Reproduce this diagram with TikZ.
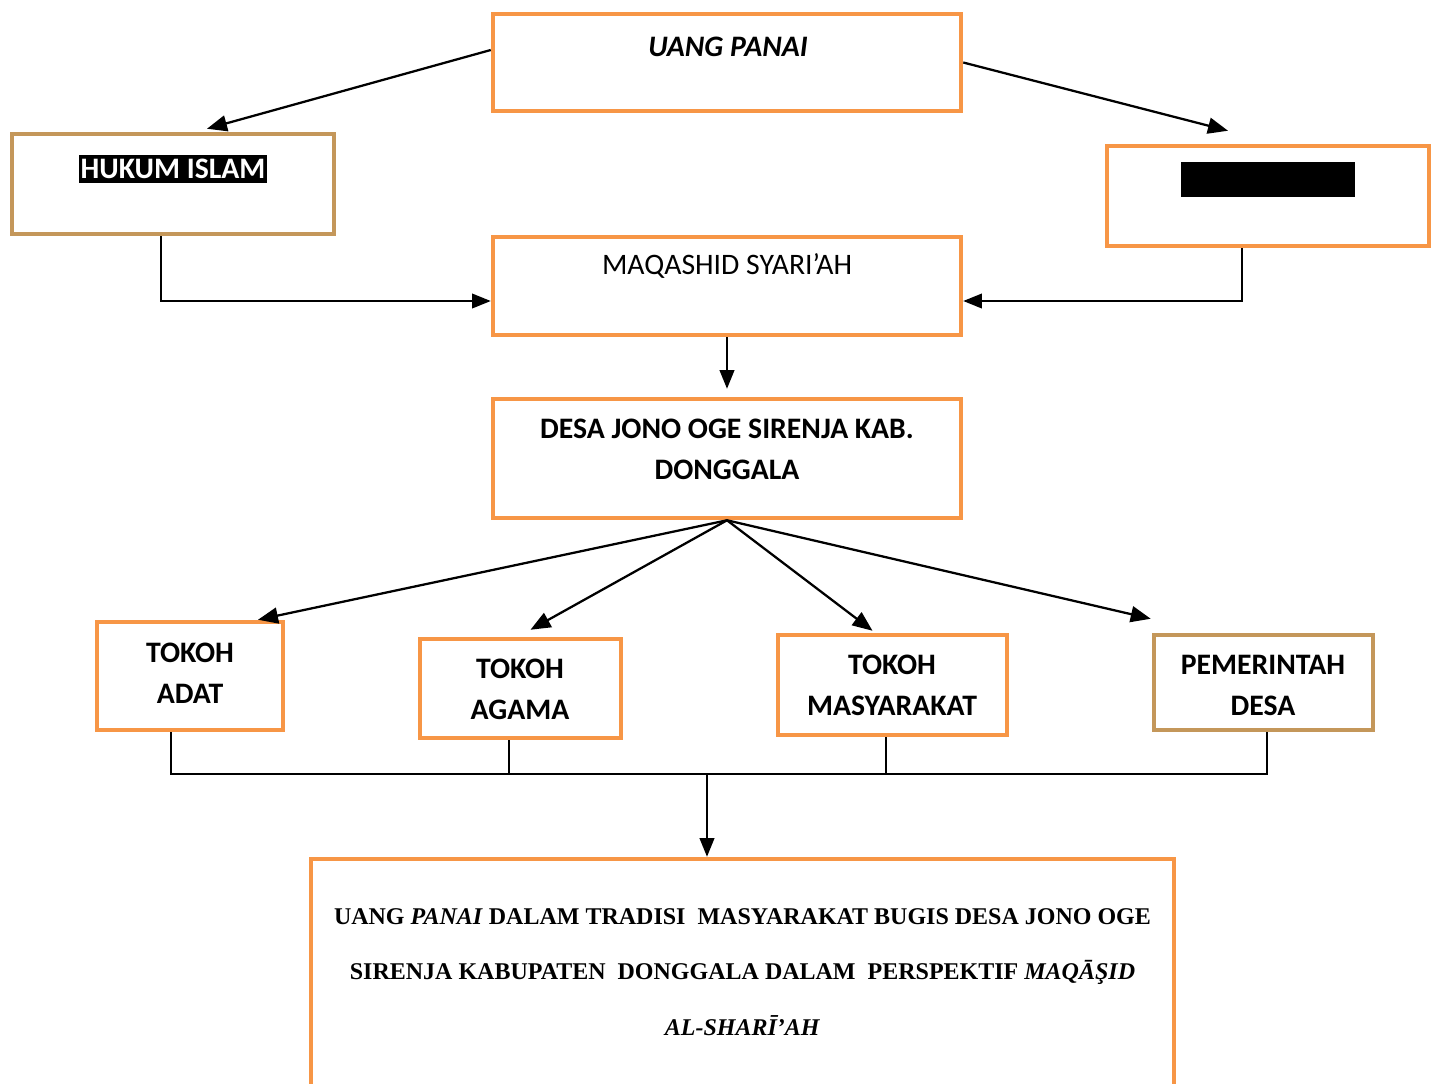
\documentclass[tikz,border=0pt]{standalone}
\usepackage{fontspec}
\setmainfont{Liberation Serif}
\setsansfont{Carlito}
\usetikzlibrary{arrows.meta,calc}
\definecolor{orangeb}{RGB}{247,150,70}
\definecolor{tanb}{RGB}{196,151,90}
\newdimen\px \px=0.75pt
\tikzset{
  box/.style={draw=orangeb, line width=3.4pt, minimum width=#1, inner sep=0pt},
  tanbox/.style={draw=tanb, line width=3.4pt, inner sep=0pt},
  lbl/.style={font=\sffamily\fontsize{22.3}{30.75}\selectfont, align=center, inner sep=0pt},
  blbl/.style={font=\sffamily\bfseries\fontsize{22.3}{30.75}\selectfont, align=center, inner sep=0pt},
  arr/.style={line width=1.7pt, -{Triangle[length=15pt,width=12pt]}},
  bus/.style={line width=1.2pt},
  busarr/.style={line width=1.5pt, -{Triangle[length=14pt,width=11pt]}},
}
\begin{document}
\begin{tikzpicture}[x=0.75pt,y=-0.75pt]
\useasboundingbox (0,0) rectangle (1438,1083);
\clip (0,0) rectangle (1438,1083);
\fill[white] (0,0) rectangle (1438,1083);
% boxes
\node[box=468\px, minimum height=97\px] (top) at (727,62.5) {};
\node[tanbox, minimum width=322\px, minimum height=100\px] (hukum) at (173,184) {};
\node[box=322\px, minimum height=100\px] (right) at (1268,196) {};
\node[box=468\px, minimum height=98\px] (maq) at (727,286) {};
\node[box=468\px, minimum height=119\px] (desa) at (727,458.5) {};
\node[box=186\px, minimum height=108\px] (adat) at (190,676) {};
\node[box=201\px, minimum height=99\px] (agama) at (520.5,688.5) {};
\node[box=229\px, minimum height=100\px] (masy) at (892.5,685) {};
\node[tanbox, minimum width=219\px, minimum height=95\px] (pem) at (1263.5,682.5) {};
\node[box=863\px, minimum height=251\px] (bottom) at (742.5,984.5) {};
% texts
\node[blbl, font=\sffamily\bfseries\itshape\fontsize{22.3}{30.75}\selectfont] (ttop) at (728,47) {UANG PANAI};
\node[blbl, fill=black, text=white, inner xsep=1pt, inner ysep=3pt] (thukum) at (173,169) {HUKUM ISLAM};
\node[fill=black, minimum width=174\px, minimum height=35\px, inner sep=0pt] (tright) at (1268,179.5) {};
\node[lbl] (tmaq) at (727,266) {MAQASHID SYARI’AH};
\node[blbl] (tdesa) at (727,449.5) {DESA JONO OGE SIRENJA KAB.\\DONGGALA};
\node[blbl] (tadat) at (190,673.5) {TOKOH\\ADAT};
\node[blbl] (tagama) at (520,689.5) {TOKOH\\AGAMA};
\node[blbl] (tmasy) at (892,685.5) {TOKOH\\MASYARAKAT};
\node[blbl] (tpem) at (1263,685.5) {PEMERINTAH\\DESA};
\node[font=\rmfamily\bfseries\fontsize{18}{41.6}\selectfont, align=center, inner sep=0pt] (tbottom) at (742.5,972)
  {UANG \textit{PANAI} DALAM TRADISI\ \ MASYARAKAT BUGIS DESA JONO OGE\\
   SIRENJA KABUPATEN\ \ DONGGALA DALAM\ \ PERSPEKTIF \textit{MAQĀŞID}\\
   \textit{AL-SHARĪ’AH}};
% connectors
\draw[arr] ([yshift=12.5\px]top.west) -- ([xshift=34\px,yshift=3\px]hukum.north);
\draw[arr] (top.east) -- ([xshift=-40\px,yshift=13\px]right.north);
\draw[bus, -{Triangle[length=14pt,width=11pt]}] ([xshift=-12\px]hukum.south) |- ([yshift=-15\px]maq.west);
\draw[bus, -{Triangle[length=14pt,width=11pt]}] ([xshift=-26\px]right.south) |- ([yshift=-15\px]maq.east);
\draw[busarr, shorten >=8\px] (maq.south) -- (desa.north);
\draw[arr] (desa.south) -- ([xshift=68\px]adat.north);
\draw[arr] (desa.south) -- ([xshift=10\px,yshift=7\px]agama.north);
\draw[arr] (desa.south) -- ([xshift=-20\px,yshift=2\px]masy.north);
\draw[arr] (desa.south) -- ([xshift=-1\px,yshift=14\px]pem.north west);
\coordinate (busc) at (707,774);
\draw[bus] ([xshift=-19\px]adat.south) |- ([xshift=3.5\px]pem.south |- busc) -- ([xshift=3.5\px]pem.south);
\draw[bus] ([xshift=-11.5\px]agama.south) -- ([xshift=-11.5\px]agama.south |- busc);
\draw[bus] ([xshift=-6.5\px]masy.south) -- ([xshift=-6.5\px]masy.south |- busc);
\draw[busarr] (busc) -- (busc |- bottom.north);
\end{tikzpicture}
\end{document}
